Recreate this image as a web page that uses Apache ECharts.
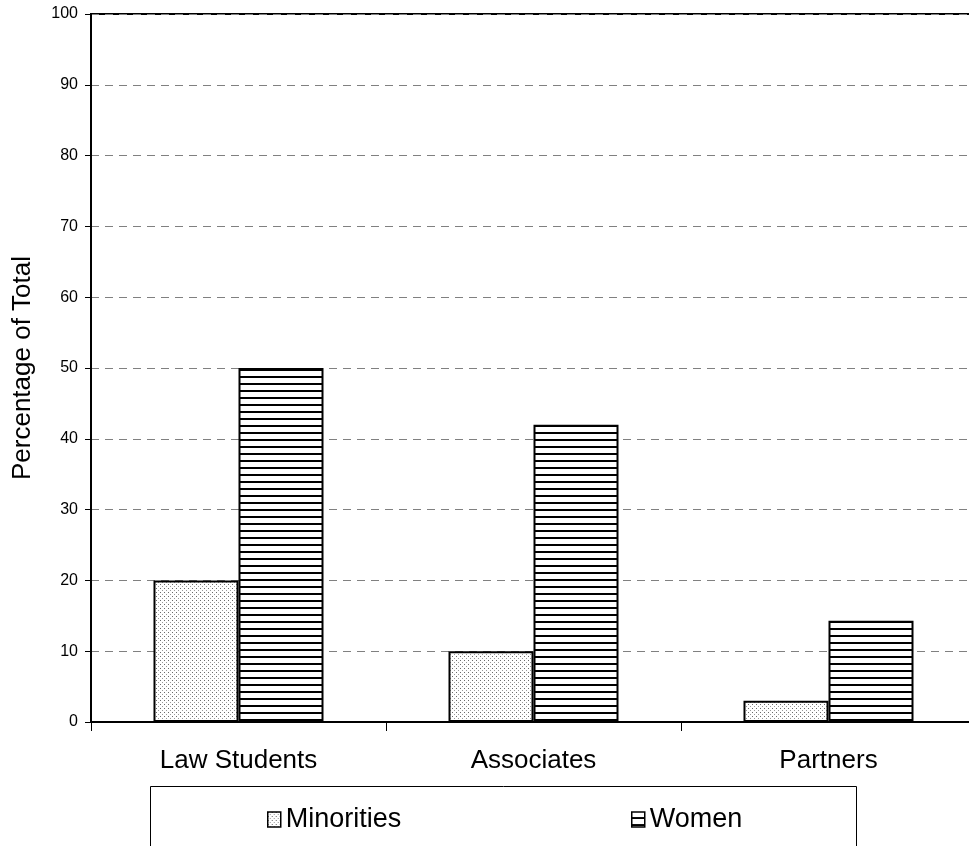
<!DOCTYPE html>
<html>
<head>
<meta charset="utf-8">
<style>
  html, body { margin: 0; padding: 0; background: #fff; overflow: hidden; }
  #chart { width: 976px; height: 846px; }
</style>
<script src="https://cdn.jsdelivr.net/npm/echarts@6/dist/echarts.min.js"></script>
</head>
<body>
<div id="chart"></div>
<script>
// Categories and percentages
const categories = ['Law Students', 'Associates', 'Partners'];
const minorities = [20, 10, 3];
const women = [50, 42, 14.3];
const seriesNames = ['Minorities', 'Women'];

// Stippled fill for the minorities bars
function makeDotPattern() {
  const c = document.createElement('canvas');
  c.width = 4; c.height = 4;
  const g = c.getContext('2d');
  g.fillStyle = '#ffffff';
  g.fillRect(0, 0, 4, 4);
  g.fillStyle = '#6a6a6a';
  g.fillRect(0, 0, 1, 1);
  g.fillStyle = '#9a9a9a';
  g.fillRect(2, 2, 1, 1);
  return c;
}

// Horizontal stripe fill for the women bars
function makeStripePattern() {
  const c = document.createElement('canvas');
  c.width = 8; c.height = 7;
  const g = c.getContext('2d');
  g.fillStyle = '#ffffff';
  g.fillRect(0, 0, 8, 7);
  g.fillStyle = '#000000';
  g.fillRect(0, 5, 8, 2);
  return c;
}

const dotFill = { image: makeDotPattern(), repeat: 'repeat' };
const stripeFill = { image: makeStripePattern(), repeat: 'repeat' };

const font = 'Liberation Sans, Arial, sans-serif';

const legendBase = {
  top: 806,
  padding: 0,
  itemWidth: 13, itemHeight: 15,
  icon: 'rect',
  textStyle: { fontSize: 27, color: '#000', fontFamily: font },
  itemStyle: { borderColor: '#000', borderWidth: 1.5 }
};

const chart = echarts.init(document.getElementById('chart'), null, { renderer: 'canvas' });

chart.setOption({
  animation: false,
  backgroundColor: '#ffffff',
  textStyle: { fontFamily: font, color: '#000' },
  grid: {
    left: 91, right: 0, top: 14, bottom: 124,
    show: true, borderColor: '#000', borderWidth: 2, backgroundColor: 'transparent'
  },
  legend: [
    Object.assign({}, legendBase, { data: [seriesNames[0]], left: 267 }),
    Object.assign({}, legendBase, { data: [seriesNames[1]], left: 631 })
  ],
  graphic: [{
    type: 'rect',
    shape: { x: 150.5, y: 786.5, width: 706, height: 100 },
    style: { fill: 'none', stroke: '#000', lineWidth: 1 },
    silent: true
  }],
  xAxis: {
    type: 'category',
    data: categories,
    axisLine: { lineStyle: { color: '#000', width: 2 } },
    axisTick: { show: true, alignWithLabel: false, length: 9, lineStyle: { color: '#000', width: 1 } },
    axisLabel: { fontSize: 26, color: '#000', margin: 26 }
  },
  yAxis: {
    type: 'value',
    min: 0, max: 100, interval: 10,
    name: 'Percentage of Total',
    nameLocation: 'middle',
    nameRotate: 90,
    nameGap: 55,
    nameTextStyle: { fontSize: 26, color: '#000' },
    axisLine: { show: true, lineStyle: { color: '#000', width: 2 } },
    axisTick: { show: true, length: 6, lineStyle: { color: '#000', width: 1 } },
    axisLabel: { fontSize: 16, color: '#000', margin: 13 },
    splitLine: { show: true, lineStyle: { color: '#808080', type: [8, 6], width: 1 } }
  },
  series: [
    {
      name: seriesNames[0],
      type: 'bar',
      data: minorities,
      barWidth: 85,
      barGap: '0%',
      itemStyle: { color: dotFill, borderColor: '#000', borderWidth: 2 }
    },
    {
      name: seriesNames[1],
      type: 'bar',
      data: women,
      barWidth: 85,
      barGap: '0%',
      itemStyle: { color: stripeFill, borderColor: '#000', borderWidth: 2 }
    }
  ]
});
</script>
</body>
</html>
